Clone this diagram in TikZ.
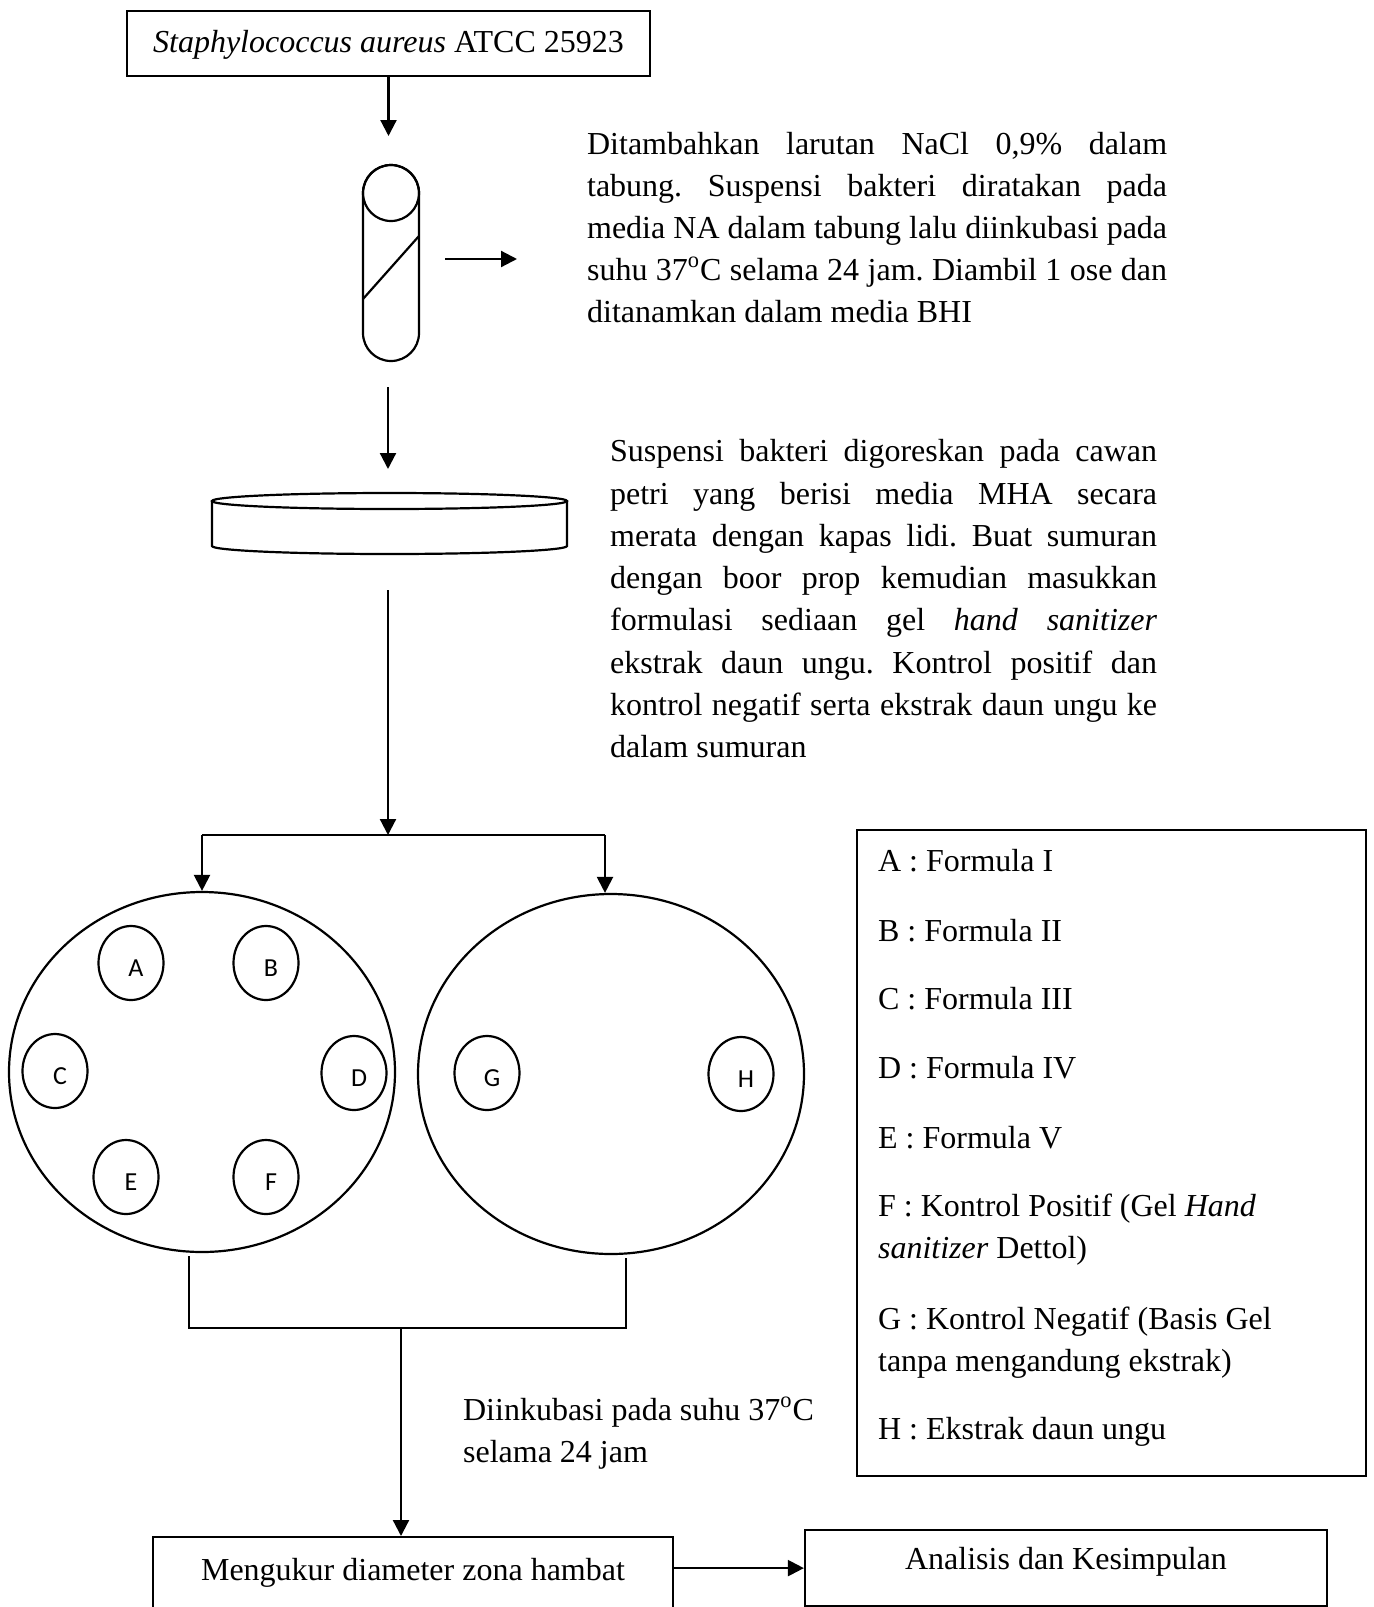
\documentclass[tikz,border=0pt]{standalone}
\usepackage{fontspec}
\setmainfont{Liberation Serif}
\newfontfamily\labfont{Carlito}
\frenchspacing
\usetikzlibrary{arrows.meta,shapes.geometric}
\newcommand{\jA}[1]{\makebox[290pt][s]{#1}}
\newcommand{\jB}[1]{\makebox[273.5pt][s]{#1}}
\begin{document}
\begin{tikzpicture}[x=0.5pt,y=-0.5pt,line width=1.1pt,
  arr/.style={-{Triangle[length=8pt,width=8pt]}},
  txt/.style={font=\fontsize{16pt}{21pt}\selectfont},
  boxed/.style={draw,txt,inner xsep=0pt,inner ysep=0pt},
  ln/.style={txt,inner sep=0pt,anchor=base west},
  dish/.style={draw,ellipse,inner sep=0pt,minimum width=193pt,minimum height=180pt},
  well/.style={draw,ellipse,inner sep=0pt,minimum width=32.5pt,minimum height=37pt,
    label={[font=\labfont\fontsize{13pt}{15pt}\selectfont,shift={(2.5pt,-2.5pt)}]center:#1}}]
\useasboundingbox (0,0) rectangle (1374,1607);
\clip (0,0) rectangle (1374,1607);

% source box
\node[boxed,minimum width=261.5pt,text height=20.75pt,text depth=11.75pt,anchor=north] (src) at (388.5,10) {\textit{Staphylococcus aureus} ATCC 25923};

% test tube
\draw (363,193) -- (363,333) arc[start angle=180,end angle=360,radius=14pt] -- (419,193) arc[start angle=0,end angle=180,radius=14pt] -- cycle;
\draw (391,193) circle[radius=14pt];
\draw (363,299) -- (419,236);

\coordinate (a1) at (388.5,136);
\draw[arr] (src.south) -- (a1);
\coordinate (r0) at (445,259);
\coordinate (r1) at (517,259);
\draw[arr] (r0) -- (r1);

% first description
\node[ln] (t1a) at (586,154) {\jA{Ditambahkan larutan NaCl 0,9\% dalam}};
\node[ln] (t1b) at (586,196) {\jA{tabung. Suspensi bakteri diratakan pada}};
\node[ln] (t1c) at (586,238) {\jA{media NA dalam tabung lalu diinkubasi pada}};
\node[ln] (t1d) at (586,280) {\jA{suhu 37\textsuperscript{o}C selama 24 jam. Diambil 1 ose dan}};
\node[ln] (t1e) at (586,322) {ditanamkan dalam media BHI};

% arrow to petri
\coordinate (a2s) at (388,387);
\coordinate (a2e) at (388,469);
\draw[arr] (a2s) -- (a2e);

% petri dish side view
\draw (389.5,501) ellipse[x radius=88.75pt,y radius=4pt];
\draw (212,501) -- (212,546) arc[start angle=180,end angle=360,x radius=88.75pt,y radius=4pt] -- (567,501);

% second description
\node[ln] (t2a) at (609,461) {\jB{Suspensi bakteri digoreskan pada cawan}};
\node[ln] (t2b) at (609,504) {\jB{petri yang berisi media MHA secara}};
\node[ln] (t2c) at (609,546) {\jB{merata dengan kapas lidi. Buat sumuran}};
\node[ln] (t2d) at (609,588) {\jB{dengan boor prop kemudian masukkan}};
\node[ln] (t2e) at (609,630) {\jB{formulasi sediaan gel \textit{hand} \textit{sanitizer}}};
\node[ln] (t2f) at (609,673) {\jB{ekstrak daun ungu. Kontrol positif dan}};
\node[ln] (t2g) at (609,715) {\jB{kontrol negatif serta ekstrak daun ungu ke}};
\node[ln] (t2h) at (609,757) {dalam sumuran};

% split
\coordinate (p3) at (388,590);
\coordinate (j) at (388,835);
\coordinate (jL) at (202,835);
\coordinate (jR) at (605,835);
\draw[arr] (p3) -- (j);
\draw (jL) -- (jR);

\node[dish] (dL) at (202,1072) {};
\node[dish] (dR) at (611,1074) {};
\draw[arr] (jL) -- (dL.north);
\draw[arr] (jR) -- (jR |- dR.north);

\node[well=A] (wA) at (131,963) {};
\node[well=B] (wB) at (266,963) {};
\node[well=C] (wC) at (55,1071) {};
\node[well=D] (wD) at (354,1073) {};
\node[well=E] (wE) at (126,1177) {};
\node[well=F] (wF) at (266,1177) {};
\node[well=G] (wG) at (487,1073) {};
\node[well=H] (wH) at (741,1074) {};

% bottom boxes
\node[boxed,minimum width=260pt,text height=21.5pt,text depth=30pt,anchor=north] (mk) at (413,1536) {Mengukur diameter zona hambat};
\node[boxed,minimum width=261pt,text height=19.5pt,text depth=18.5pt,anchor=north] (ak) at (1066,1529) {Analisis dan Kesimpulan};
\draw[arr] (ak.west -| mk.east) -- (ak.west);

% bracket
\coordinate (bL) at (189,1256);
\coordinate (bL2) at (189,1328);
\coordinate (bR2) at (626,1328);
\coordinate (bR) at (626,1258);
\draw (bL) -- (bL2) -- (bR2) -- (bR);
\coordinate (b4) at (401,1328);
\draw[arr] (b4) -- (b4 |- mk.north);

\node[ln] (inca) at (462,1420) {Diinkubasi pada suhu 37\textsuperscript{o}C};
\node[ln] (incb) at (462,1462) {selama 24 jam};

% legend
\node[draw,minimum width=254.5pt,minimum height=323pt,inner sep=0pt] (leg) at (1111.5,1153) {};
\node[ln] (lA) at (877,871) {A : Formula I};
\node[ln] (lB) at (877,941) {B : Formula II};
\node[ln] (lC) at (877,1009) {C : Formula III};
\node[ln] (lD) at (877,1078) {D : Formula IV};
\node[ln] (lE) at (877,1148) {E : Formula V};
\node[ln] (lF1) at (877,1216) {F : Kontrol Positif (Gel \textit{Hand}};
\node[ln] (lF2) at (877,1258) {\textit{sanitizer} Dettol)};
\node[ln] (lG1) at (877,1329) {G : Kontrol Negatif (Basis Gel};
\node[ln] (lG2) at (877,1371) {tanpa mengandung ekstrak)};
\node[ln] (lH) at (877,1439) {H : Ekstrak daun ungu};
\end{tikzpicture}
\end{document}
